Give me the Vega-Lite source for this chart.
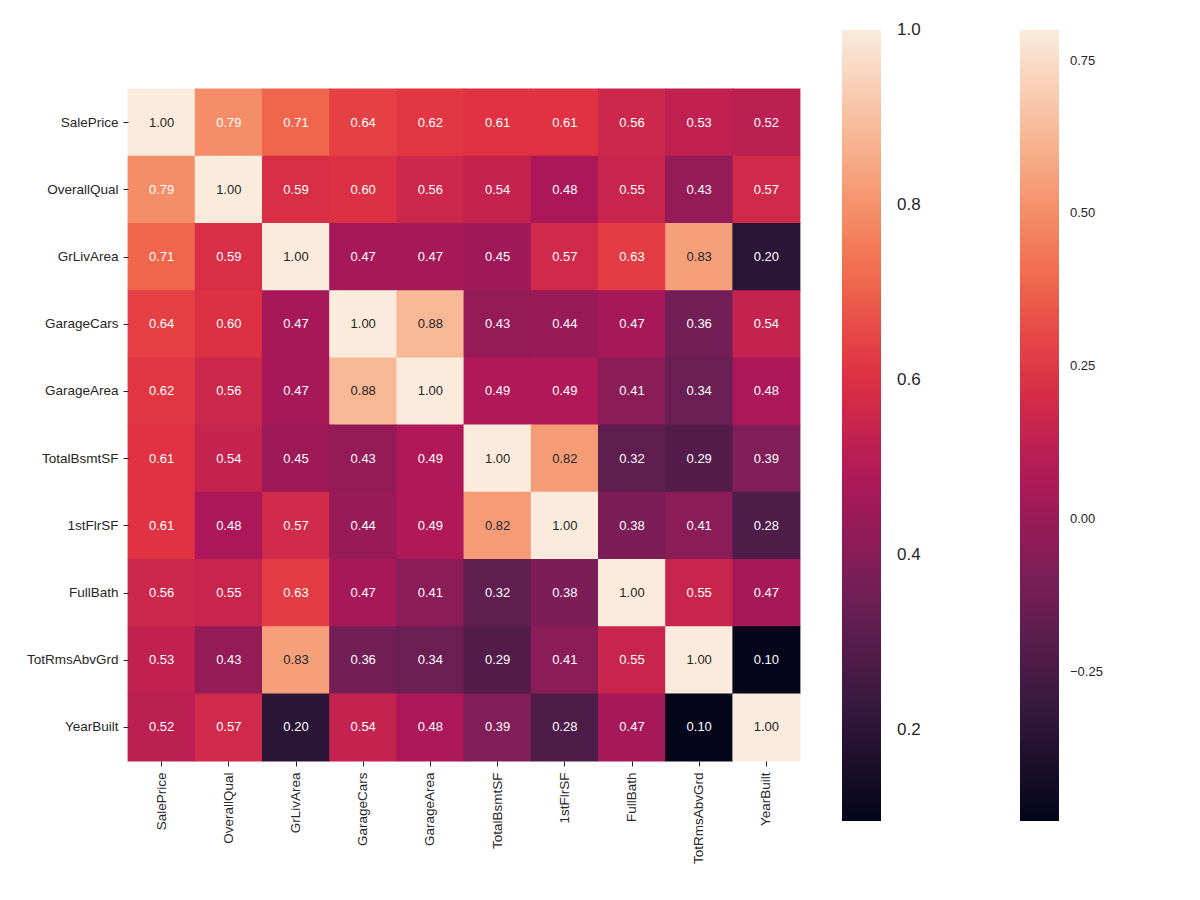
{
  "$schema": "https://vega.github.io/schema/vega-lite/v6.json",
  "autosize": {"type": "none"},
  "width": 672,
  "height": 672,
  "padding": {"left": 128, "top": 89, "right": 400, "bottom": 139},
  "background": "#ffffff",
  "config": {"view": {"stroke": null}, "font": "Liberation Sans"},
  "datasets": {
    "corr": [
      {"row": "SalePrice", "col": "SalePrice", "value": 1.00},
      {"row": "SalePrice", "col": "OverallQual", "value": 0.79},
      {"row": "SalePrice", "col": "GrLivArea", "value": 0.71},
      {"row": "SalePrice", "col": "GarageCars", "value": 0.64},
      {"row": "SalePrice", "col": "GarageArea", "value": 0.62},
      {"row": "SalePrice", "col": "TotalBsmtSF", "value": 0.61},
      {"row": "SalePrice", "col": "1stFlrSF", "value": 0.61},
      {"row": "SalePrice", "col": "FullBath", "value": 0.56},
      {"row": "SalePrice", "col": "TotRmsAbvGrd", "value": 0.53},
      {"row": "SalePrice", "col": "YearBuilt", "value": 0.52},
      {"row": "OverallQual", "col": "SalePrice", "value": 0.79},
      {"row": "OverallQual", "col": "OverallQual", "value": 1.00},
      {"row": "OverallQual", "col": "GrLivArea", "value": 0.59},
      {"row": "OverallQual", "col": "GarageCars", "value": 0.60},
      {"row": "OverallQual", "col": "GarageArea", "value": 0.56},
      {"row": "OverallQual", "col": "TotalBsmtSF", "value": 0.54},
      {"row": "OverallQual", "col": "1stFlrSF", "value": 0.48},
      {"row": "OverallQual", "col": "FullBath", "value": 0.55},
      {"row": "OverallQual", "col": "TotRmsAbvGrd", "value": 0.43},
      {"row": "OverallQual", "col": "YearBuilt", "value": 0.57},
      {"row": "GrLivArea", "col": "SalePrice", "value": 0.71},
      {"row": "GrLivArea", "col": "OverallQual", "value": 0.59},
      {"row": "GrLivArea", "col": "GrLivArea", "value": 1.00},
      {"row": "GrLivArea", "col": "GarageCars", "value": 0.47},
      {"row": "GrLivArea", "col": "GarageArea", "value": 0.47},
      {"row": "GrLivArea", "col": "TotalBsmtSF", "value": 0.45},
      {"row": "GrLivArea", "col": "1stFlrSF", "value": 0.57},
      {"row": "GrLivArea", "col": "FullBath", "value": 0.63},
      {"row": "GrLivArea", "col": "TotRmsAbvGrd", "value": 0.83},
      {"row": "GrLivArea", "col": "YearBuilt", "value": 0.20},
      {"row": "GarageCars", "col": "SalePrice", "value": 0.64},
      {"row": "GarageCars", "col": "OverallQual", "value": 0.60},
      {"row": "GarageCars", "col": "GrLivArea", "value": 0.47},
      {"row": "GarageCars", "col": "GarageCars", "value": 1.00},
      {"row": "GarageCars", "col": "GarageArea", "value": 0.88},
      {"row": "GarageCars", "col": "TotalBsmtSF", "value": 0.43},
      {"row": "GarageCars", "col": "1stFlrSF", "value": 0.44},
      {"row": "GarageCars", "col": "FullBath", "value": 0.47},
      {"row": "GarageCars", "col": "TotRmsAbvGrd", "value": 0.36},
      {"row": "GarageCars", "col": "YearBuilt", "value": 0.54},
      {"row": "GarageArea", "col": "SalePrice", "value": 0.62},
      {"row": "GarageArea", "col": "OverallQual", "value": 0.56},
      {"row": "GarageArea", "col": "GrLivArea", "value": 0.47},
      {"row": "GarageArea", "col": "GarageCars", "value": 0.88},
      {"row": "GarageArea", "col": "GarageArea", "value": 1.00},
      {"row": "GarageArea", "col": "TotalBsmtSF", "value": 0.49},
      {"row": "GarageArea", "col": "1stFlrSF", "value": 0.49},
      {"row": "GarageArea", "col": "FullBath", "value": 0.41},
      {"row": "GarageArea", "col": "TotRmsAbvGrd", "value": 0.34},
      {"row": "GarageArea", "col": "YearBuilt", "value": 0.48},
      {"row": "TotalBsmtSF", "col": "SalePrice", "value": 0.61},
      {"row": "TotalBsmtSF", "col": "OverallQual", "value": 0.54},
      {"row": "TotalBsmtSF", "col": "GrLivArea", "value": 0.45},
      {"row": "TotalBsmtSF", "col": "GarageCars", "value": 0.43},
      {"row": "TotalBsmtSF", "col": "GarageArea", "value": 0.49},
      {"row": "TotalBsmtSF", "col": "TotalBsmtSF", "value": 1.00},
      {"row": "TotalBsmtSF", "col": "1stFlrSF", "value": 0.82},
      {"row": "TotalBsmtSF", "col": "FullBath", "value": 0.32},
      {"row": "TotalBsmtSF", "col": "TotRmsAbvGrd", "value": 0.29},
      {"row": "TotalBsmtSF", "col": "YearBuilt", "value": 0.39},
      {"row": "1stFlrSF", "col": "SalePrice", "value": 0.61},
      {"row": "1stFlrSF", "col": "OverallQual", "value": 0.48},
      {"row": "1stFlrSF", "col": "GrLivArea", "value": 0.57},
      {"row": "1stFlrSF", "col": "GarageCars", "value": 0.44},
      {"row": "1stFlrSF", "col": "GarageArea", "value": 0.49},
      {"row": "1stFlrSF", "col": "TotalBsmtSF", "value": 0.82},
      {"row": "1stFlrSF", "col": "1stFlrSF", "value": 1.00},
      {"row": "1stFlrSF", "col": "FullBath", "value": 0.38},
      {"row": "1stFlrSF", "col": "TotRmsAbvGrd", "value": 0.41},
      {"row": "1stFlrSF", "col": "YearBuilt", "value": 0.28},
      {"row": "FullBath", "col": "SalePrice", "value": 0.56},
      {"row": "FullBath", "col": "OverallQual", "value": 0.55},
      {"row": "FullBath", "col": "GrLivArea", "value": 0.63},
      {"row": "FullBath", "col": "GarageCars", "value": 0.47},
      {"row": "FullBath", "col": "GarageArea", "value": 0.41},
      {"row": "FullBath", "col": "TotalBsmtSF", "value": 0.32},
      {"row": "FullBath", "col": "1stFlrSF", "value": 0.38},
      {"row": "FullBath", "col": "FullBath", "value": 1.00},
      {"row": "FullBath", "col": "TotRmsAbvGrd", "value": 0.55},
      {"row": "FullBath", "col": "YearBuilt", "value": 0.47},
      {"row": "TotRmsAbvGrd", "col": "SalePrice", "value": 0.53},
      {"row": "TotRmsAbvGrd", "col": "OverallQual", "value": 0.43},
      {"row": "TotRmsAbvGrd", "col": "GrLivArea", "value": 0.83},
      {"row": "TotRmsAbvGrd", "col": "GarageCars", "value": 0.36},
      {"row": "TotRmsAbvGrd", "col": "GarageArea", "value": 0.34},
      {"row": "TotRmsAbvGrd", "col": "TotalBsmtSF", "value": 0.29},
      {"row": "TotRmsAbvGrd", "col": "1stFlrSF", "value": 0.41},
      {"row": "TotRmsAbvGrd", "col": "FullBath", "value": 0.55},
      {"row": "TotRmsAbvGrd", "col": "TotRmsAbvGrd", "value": 1.00},
      {"row": "TotRmsAbvGrd", "col": "YearBuilt", "value": 0.10},
      {"row": "YearBuilt", "col": "SalePrice", "value": 0.52},
      {"row": "YearBuilt", "col": "OverallQual", "value": 0.57},
      {"row": "YearBuilt", "col": "GrLivArea", "value": 0.20},
      {"row": "YearBuilt", "col": "GarageCars", "value": 0.54},
      {"row": "YearBuilt", "col": "GarageArea", "value": 0.48},
      {"row": "YearBuilt", "col": "TotalBsmtSF", "value": 0.39},
      {"row": "YearBuilt", "col": "1stFlrSF", "value": 0.28},
      {"row": "YearBuilt", "col": "FullBath", "value": 0.47},
      {"row": "YearBuilt", "col": "TotRmsAbvGrd", "value": 0.10},
      {"row": "YearBuilt", "col": "YearBuilt", "value": 1.00}
    ]
  },
  "data": {"name": "corr"},
  "encoding": {
    "x": {
      "field": "col", "type": "nominal",
      "sort": ["SalePrice", "OverallQual", "GrLivArea", "GarageCars", "GarageArea", "TotalBsmtSF", "1stFlrSF", "FullBath", "TotRmsAbvGrd", "YearBuilt"],
      "scale": {"paddingInner": 0, "paddingOuter": 0},
      "axis": {"title": null, "orient": "bottom", "domain": false, "labelAngle": 270, "labelAlign": "right", "labelBaseline": "middle", "labelFontSize": 13.5, "labelColor": "#262626", "tickColor": "#262626", "tickSize": 5, "tickWidth": 1, "labelPadding": 6, "labelFont": "Liberation Sans"}
    },
    "y": {
      "field": "row", "type": "nominal",
      "sort": ["SalePrice", "OverallQual", "GrLivArea", "GarageCars", "GarageArea", "TotalBsmtSF", "1stFlrSF", "FullBath", "TotRmsAbvGrd", "YearBuilt"],
      "scale": {"paddingInner": 0, "paddingOuter": 0},
      "axis": {"title": null, "domain": false, "labelFontSize": 13.5, "labelColor": "#262626", "tickColor": "#262626", "tickSize": 5, "tickWidth": 1, "labelPadding": 5, "labelFont": "Liberation Sans"}
    }
  },
  "layer": [
    {
      "mark": {"type": "rect", "strokeWidth": 0, "width": {"band": 1.012}, "height": {"band": 1.012}},
      "encoding": {
        "fill": {
          "field": "value", "type": "quantitative",
          "scale": {
            "type": "linear",
            "domain": [0.0956, 0.2248, 0.3540, 0.4832, 0.6124, 0.7416, 0.8708, 1.0],
            "range": ["#03051a", "#35193e", "#701f57", "#ad1759", "#e13342", "#f37651", "#f6b48f", "#faebdd"],
            "interpolate": "rgb",
            "clamp": true
          },
          "legend": {
            "orient": "none", "direction": "vertical", "legendX": 714, "legendY": -59,
            "gradientLength": 791, "gradientThickness": 39, "gradientStrokeWidth": 0,
            "title": null, "padding": 0, "values": [0.2, 0.4, 0.6, 0.8, 0.9999], "format": ".1f",
            "labelFontSize": 17, "labelOffset": 16, "labelColor": "#262626", "labelFont": "Liberation Sans", "labelOverlap": false, "labelBaseline": "middle"
          }
        }
      }
    },
    {
      "mark": {"type": "point", "size": 0, "filled": true, "strokeWidth": 0, "opacity": 1},
      "encoding": {
        "fill": {
          "field": "value", "type": "quantitative",
          "scale": {
            "type": "linear",
            "domain": [-0.4935, -0.3087, -0.1239, 0.0609, 0.2456, 0.4304, 0.6152, 0.80],
            "range": ["#03051a", "#35193e", "#701f57", "#ad1759", "#e13342", "#f37651", "#f6b48f", "#faebdd"],
            "interpolate": "rgb"
          },
          "legend": {
            "orient": "none", "direction": "vertical", "legendX": 892, "legendY": -59,
            "gradientLength": 791, "gradientThickness": 39, "gradientStrokeWidth": 0,
            "title": null, "padding": 0, "values": [-0.25, 0, 0.25, 0.5, 0.75],
            "labelExpr": "replace(format(datum.value, '.2f'), '-', '\u2212')",
            "labelFontSize": 13, "labelOffset": 11, "labelColor": "#262626", "labelFont": "Liberation Sans", "labelOverlap": false, "labelBaseline": "middle"
          }
        }
      }
    },
    {
      "mark": {"type": "text", "fontSize": 13, "font": "Liberation Sans"},
      "encoding": {
        "text": {"field": "value", "type": "quantitative", "format": ".2f"},
        "color": {"condition": {"test": "datum.value > 0.8", "value": "#262626"}, "value": "#ffffff"}
      }
    }
  ],
  "resolve": {"scale": {"fill": "independent"}, "legend": {"fill": "independent"}}
}
